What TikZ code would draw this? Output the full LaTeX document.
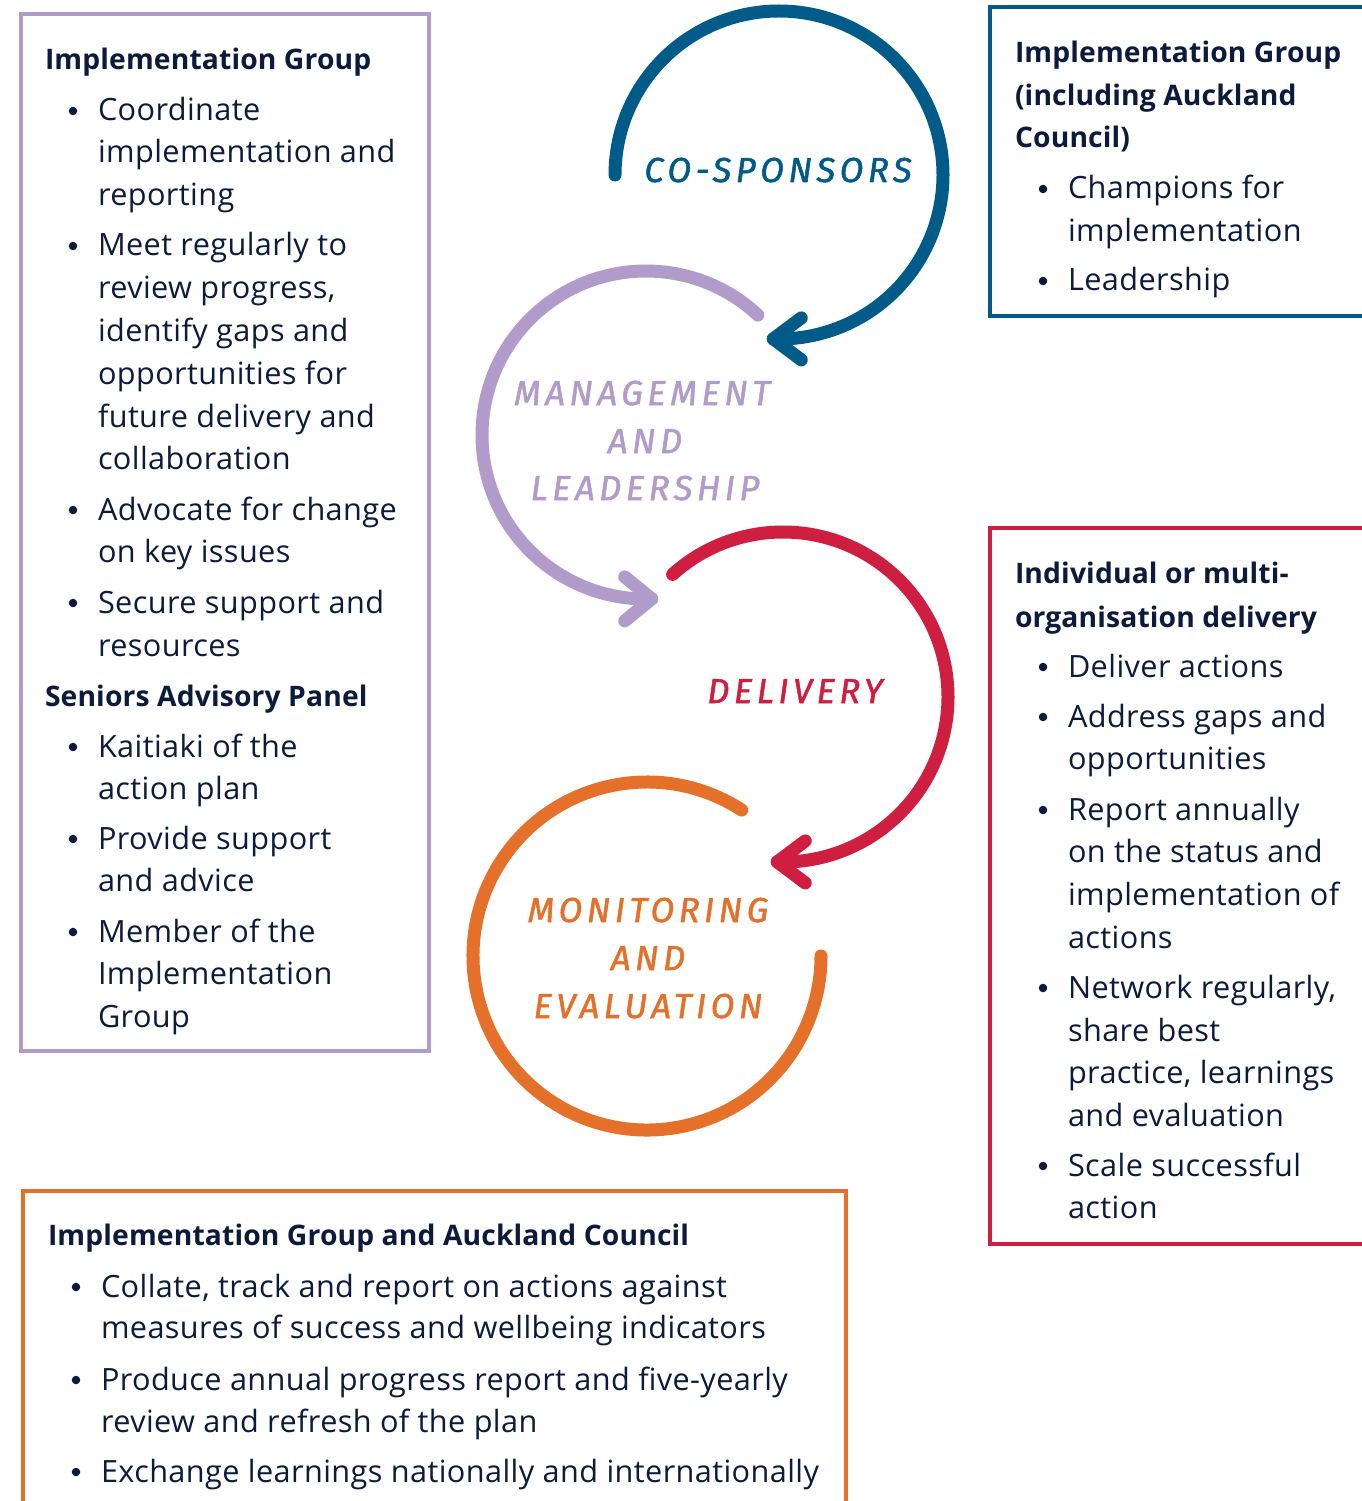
\documentclass[tikz,border=0pt]{standalone}
\usepackage{fontspec}
\setmainfont{Open Sans}[LetterSpace=1.3]
\newfontfamily\headfont{Open Sans}[LetterSpace=0.5]
\newfontfamily\handfont[LetterSpace=13,FakeBold=1.5]{Fira Sans}
\definecolor{ink}{HTML}{0C1A3B}
\definecolor{cblue}{HTML}{005B88}
\definecolor{cpurple}{HTML}{B09BCB}
\definecolor{cred}{HTML}{CF1F40}
\definecolor{corange}{HTML}{E5702A}
\newcommand\tl[4]{\node[bodytext] (#1) at (#2,#3) {#4};}
\newcommand\hl[4]{\node[headtext] (#1) at (#2,#3) {#4};}
\newcommand\bu[3]{\node[bulletdot] (#1) at (#2,#3-10) {};}
\begin{document}
\begin{tikzpicture}[x=0.75pt,y=-0.75pt,
  bodytext/.style={anchor=base west, inner sep=0pt, outer sep=0pt, text=ink, font=\fontsize{23}{27}\selectfont},
  headtext/.style={anchor=base west, inner sep=0pt, outer sep=0pt, text=ink, font=\headfont\fontsize{21.2}{24}\selectfont\bfseries},
  bulletdot/.style={circle, fill=ink, inner sep=0pt, minimum size=6.4pt},
  hand/.style={anchor=base, inner sep=0pt, font=\handfont\itshape\fontsize{26}{30}\selectfont},
  arcline/.style={line width=9.75pt, line cap=round, line join=round},
  frame/.style={line width=2.4pt}]
\useasboundingbox (0,0) rectangle (1361,1501);
\fill[white] (0,0) rectangle (1361,1501);

% ---- frames
\draw[frame, cpurple] (21,14) rectangle (429,1051);
\draw[frame, cblue] (990,7) rectangle (1375,316);
\draw[frame, cred] (990,528) rectangle (1375,1244);
\draw[frame, corange] (23,1191) rectangle (846,1515);

% ---- cycle arcs
\draw[arcline, cblue] (779,175) ++(180:164) arc[start angle=180, end angle=452, radius=164] coordinate (tipB);
\draw[arcline, cblue] ([shift={(28,-21)}]tipB) -- (tipB) -- ([shift={(28,21)}]tipB);

\draw[arcline, cpurple] (646,435) ++(-47:164) arc[start angle=-47, end angle=-272, radius=164] coordinate (tipP);
\draw[arcline, cpurple] ([shift={(-27,-22)}]tipP) -- (tipP) -- ([shift={(-27,22)}]tipP);

\draw[arcline, cred] (783,697) ++(-132:165) arc[start angle=-132, end angle=92, radius=165] coordinate (tipR);
\draw[arcline, cred] ([shift={(28,-21)}]tipR) -- (tipR) -- ([shift={(28,21)}]tipR);

\draw[arcline, corange] (647,956) ++(-57:174) arc[start angle=-57, end angle=-360, radius=174];

% ---- cycle labels
\node[hand, text=cblue] (lcs) at (778,182) {CO-SPONSORS};
\node[hand, text=cpurple] (lm1) at (642,405) {MANAGEMENT};
\node[hand, text=cpurple] (lm2) at (645,453) {AND};
\node[hand, text=cpurple] (lm3) at (645,500) {LEADERSHIP};
\node[hand, text=cred] (ld) at (795,703) {DELIVERY};
\node[hand, text=corange] (le1) at (648,922) {MONITORING};
\node[hand, text=corange] (le2) at (648,970) {AND};
\node[hand, text=corange] (le3) at (648,1018) {EVALUATION};

% ---- left box
\hl{a0}{45}{70}{Implementation Group}
\bu{ab1}{73}{121}\tl{a1}{98}{121}{Coordinate}
\tl{a2}{98}{163}{implementation and}
\tl{a3}{98}{206}{reporting}
\bu{ab2}{73}{256}\tl{a4}{98}{256}{Meet regularly to}
\tl{a5}{98}{299}{review progress,}
\tl{a6}{98}{341}{identify gaps and}
\tl{a7}{98}{384}{opportunities for}
\tl{a8}{98}{427}{future delivery and}
\tl{a9}{98}{469}{collaboration}
\bu{ab3}{73}{520}\tl{a10}{98}{520}{Advocate for change}
\tl{a11}{98}{562}{on key issues}
\bu{ab4}{73}{613}\tl{a12}{98}{613}{Secure support and}
\tl{a13}{98}{656}{resources}
\hl{s0}{45}{706}{Seniors Advisory Panel}
\bu{sb1}{73}{757}\tl{s1}{98}{757}{Kaitiaki of the}
\tl{s2}{98}{799}{action plan}
\bu{sb2}{73}{849}\tl{s3}{98}{849}{Provide support}
\tl{s4}{98}{891}{and advice}
\bu{sb3}{73}{942}\tl{s5}{98}{942}{Member of the}
\tl{s6}{98}{984}{Implementation}
\tl{s7}{98}{1027}{Group}

% ---- top right box
\hl{c0}{1015}{63}{Implementation Group}
\hl{c1}{1015}{106}{(including Auckland}
\hl{c2}{1015}{148}{Council)}
\bu{cb1}{1043}{199}\tl{c3}{1068}{199}{Champions for}
\tl{c4}{1068}{242}{implementation}
\bu{cb2}{1043}{291}\tl{c5}{1068}{291}{Leadership}

% ---- red box
\hl{d0}{1015}{583}{Individual or multi-}
\hl{d1}{1015}{627}{organisation delivery}
\bu{db1}{1043}{677}\tl{d2}{1068}{677}{Deliver actions}
\bu{db2}{1043}{727}\tl{d3}{1068}{727}{Address gaps and}
\tl{d4}{1068}{769}{opportunities}
\bu{db3}{1043}{820}\tl{d5}{1068}{820}{Report annually}
\tl{d6}{1068}{862}{on the status and}
\tl{d7}{1068}{905}{implementation of}
\tl{d8}{1068}{948}{actions}
\bu{db4}{1043}{998}\tl{d9}{1068}{998}{Network regularly,}
\tl{d10}{1068}{1041}{share best}
\tl{d11}{1068}{1083}{practice, learnings}
\tl{d12}{1068}{1126}{and evaluation}
\bu{db5}{1043}{1176}\tl{d13}{1068}{1176}{Scale successful}
\tl{d14}{1068}{1218}{action}

% ---- bottom box
\hl{e0}{48}{1245}{Implementation Group and Auckland Council}
\bu{eb1}{76}{1297}\tl{e1}{101}{1297}{Collate, track and report on actions against}
\tl{e2}{101}{1338}{measures of success and wellbeing indicators}
\bu{eb2}{76}{1390}\tl{e3}{101}{1390}{Produce annual progress report and five-yearly}
\tl{e4}{101}{1432}{review and refresh of the plan}
\bu{eb3}{76}{1482}\tl{e5}{101}{1482}{Exchange learnings nationally and internationally}
\end{tikzpicture}
\end{document}
